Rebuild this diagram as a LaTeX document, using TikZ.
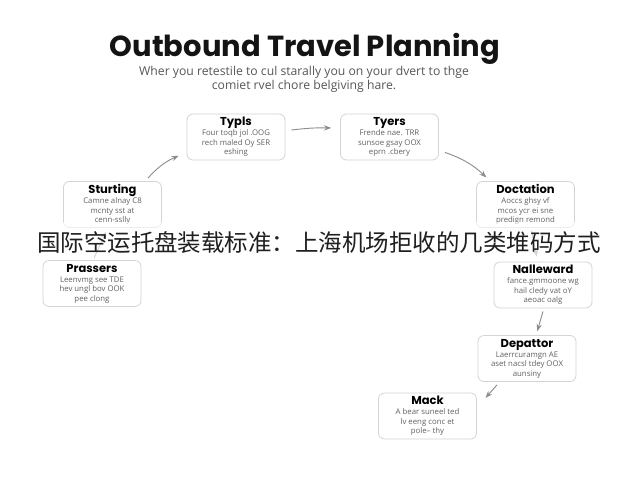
\documentclass[tikz,border=0pt]{standalone}
\usepackage{fontspec}
\setmainfont{Open Sans}
\newfontfamily\titlefont{Poppins}
\newfontfamily\cjk{Noto Sans CJK SC}
\usetikzlibrary{arrows.meta}
\tikzset{>=Stealth}
\tikzset{
	stepbox/.style={draw=black!17, line width=.8pt, fill=white, rounded corners=6pt, minimum width=98pt, minimum height=46pt, align=center, inner sep=2pt, text=black!62, font=\fontsize{7.8}{9.5}\selectfont},
	flow/.style={->, draw=black!45, line width=.9pt, shorten >=1pt},
}
\newcommand{\boxhead}[1]{{\color{black}\titlefont\bfseries\fontsize{11.5}{12}\selectfont #1}}

\begin{document}
\begin{tikzpicture}[x=1pt, y=-1pt]
    \useasboundingbox[fill=white](0, 0) rectangle (640, 480);
    \node[font=\titlefont\bfseries\fontsize{29}{32}\selectfont, text=black!92](title) at (305, 49){Outbound Travel Planning};
    \node[font=\fontsize{12.2}{14.2}\selectfont, text=black!66, align=center](subtitle) at (304, 79){Wher you retestile to cul starally you on your dvert to thge\\comiet rvel chore belgiving hare.};
    \node[stepbox](typls) at (236, 137){\boxhead{Typls}\\[.5pt]Four toqb jol .OOG\\rech maled Oy SER\\eshing};
    \node[stepbox](tyers) at (389.5, 137){\boxhead{Tyers}\\[.5pt]Frende nae. TRR\\sunsoe gsay OOX\\eprn .cbery};
    \node[stepbox](sturting) at (112.5, 204.5){\boxhead{Sturting}\\[.5pt]Camne alnay C8\\mcnty sst at\\cenn-sslly};
    \node[stepbox](doctation) at (525.5, 204.5){\boxhead{Doctation}\\[.5pt]Aoccs ghsy vf\\mcos ycr ei sne\\predign remond};
    \node[stepbox](prassers) at (92, 283.5){\boxhead{Prassers}\\[.5pt]Leenvmg see TDE\\hev ungl bov OOK\\pee clong};
    \node[stepbox](nalleward) at (543, 285){\boxhead{Nalleward}\\[.5pt]fance.gmmoone wg\\hail cledy vat oY\\aeoac oalg};
    \node[stepbox](depattor) at (527, 358.5){\boxhead{Depattor}\\[.5pt]Laerrcuramgn AE\\aset nacsl tdey OOX\\aunsiny};
    \node[stepbox](mack) at (427.5, 416){\boxhead{Mack}\\[.5pt]A bear suneel ted\\lv eeng conc et\\pole-- thy};
    \draw[flow]([xshift=-14pt, yshift=3pt]sturting.north east) to[bend left=12] ([xshift=-7pt, yshift=5pt]typls.south west);
    \draw[flow]([xshift=6pt, yshift=7pt]typls.east) to[bend left=4] ([xshift=-8pt, yshift=9pt]tyers.west);
    \draw[flow]([xshift=6pt, yshift=8pt]tyers.south east) to[bend left=12] ([xshift=11pt, yshift=3pt]doctation.north west);
    \draw[flow]([xshift=6pt, yshift=-3pt]doctation.south) -- ([xshift=-6pt, yshift=4pt]nalleward.north);
    \draw[flow]([yshift=-3pt]nalleward.south) -- ([xshift=10pt, yshift=3pt]depattor.north);
    \draw[flow]([xshift=-30pt, yshift=-3pt]depattor.south) -- ([xshift=8pt, yshift=-6pt]mack.north east);
    \draw[flow]([xshift=2pt, yshift=2pt]prassers.north) -- ([xshift=-6pt, yshift=-3pt]sturting.south);
    \fill[white, opacity=.6](0, 222) rectangle (640, 259);
    \node[font=\cjk\fontsize{23.5}{26}\selectfont, text=black!88](banner) at (319, 243){国际空运托盘装载标准：上海机场拒收的几类堆码方式};
\end{tikzpicture}
\end{document}
